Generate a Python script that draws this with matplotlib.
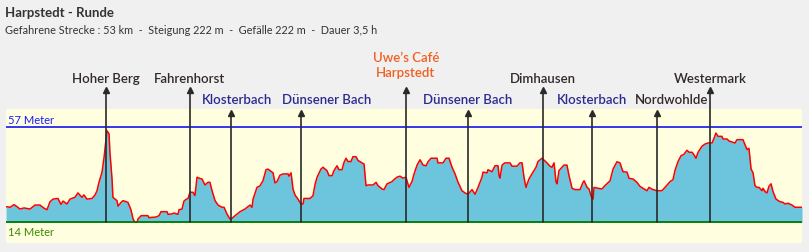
import matplotlib
matplotlib.use("Agg")
import matplotlib.pyplot as plt

# ---- data ----
title = "Harpstedt - Runde"
subtitle = "Gefahrene Strecke : 53 km  -  Steigung 222 m  -  Gefälle 222 m  -  Dauer 3,5 h"

dist_km = [0.00, 0.27, 0.53, 0.73, 0.93, 1.20, 1.60, 1.93, 2.26, 2.53, 2.73, 2.93, 3.13, 3.46, 3.66, 3.80,
           4.06, 4.26, 4.59, 4.79, 5.06, 5.19, 5.39, 5.73, 5.93, 6.06, 6.19, 6.39, 6.53, 6.66, 6.72, 6.86,
           6.92, 7.06, 7.12, 7.39, 7.46, 7.66, 7.79, 8.12, 8.32, 8.46, 8.59, 8.72, 8.79, 9.00, 9.45, 9.52,
           9.99, 10.19, 10.32, 10.72, 10.79, 11.05, 11.19, 11.45, 11.52, 11.72, 11.85, 11.99, 12.12, 12.25,
           12.45, 12.58, 12.72, 12.85, 13.05, 13.25, 13.45, 13.58, 13.72, 13.92, 14.12, 14.38, 14.52, 14.71,
           14.91, 15.05, 15.25, 15.58, 15.91, 16.25, 16.38, 16.45, 16.71, 16.91, 17.11, 17.31, 17.44, 17.58,
           17.78, 17.91, 18.04, 18.24, 18.44, 18.78, 18.84, 18.98, 19.11, 19.24, 19.44, 19.64, 19.78, 19.84,
           20.24, 20.44, 20.57, 20.71, 20.97, 21.11, 21.37, 21.51, 21.71, 21.84, 22.04, 22.17, 22.37, 22.51,
           22.64, 22.77, 22.97, 23.10, 23.30, 23.44, 23.70, 23.84, 23.97, 24.10, 24.44, 24.64, 24.77, 25.04,
           25.17, 25.37, 25.70, 25.83, 26.03, 26.23, 26.43, 26.63, 26.70, 26.83, 27.03, 27.17, 27.37, 27.57,
           27.77, 27.97, 28.10, 28.30, 28.70, 28.76, 29.10, 29.30, 29.50, 29.70, 29.90, 30.10, 30.36, 30.56,
           30.76, 31.03, 31.23, 31.43, 31.69, 31.76, 32.03, 32.09, 32.36, 32.56, 32.76, 32.83, 32.89, 33.03,
           33.22, 33.56, 33.69, 34.02, 34.22, 34.36, 34.49, 34.62, 34.82, 35.02, 35.29, 35.42, 35.69, 36.02,
           36.22, 36.35, 36.49, 36.62, 36.69, 36.82, 36.95, 37.15, 37.35, 37.49, 37.69, 37.89, 38.22, 38.42,
           38.49, 38.69, 38.82, 38.96, 39.09, 39.15, 39.42, 39.68, 39.88, 40.22, 40.42, 40.68, 40.88, 41.08,
           41.35, 41.48, 41.75, 42.01, 42.21, 42.48, 42.68, 42.81, 43.08, 43.34, 43.67, 43.88, 44.21, 44.41,
           44.54, 44.74, 44.94, 45.14, 45.34, 45.48, 45.68, 45.81, 45.94, 46.08, 46.34, 46.54, 46.74, 47.01,
           47.14, 47.27, 47.41, 47.67, 47.74, 48.01, 48.14, 48.41, 48.54, 48.67, 49.07, 49.21, 49.34, 49.47,
           49.61, 49.74, 49.87, 50.00, 50.14, 50.34, 50.40, 50.54, 50.67, 50.80, 50.94, 51.07, 51.27, 51.54,
           51.74, 51.87, 52.07, 52.34, 52.53, 53.00]

elev_m = [21.1, 20.8, 22.0, 21.1, 20.0, 20.5, 20.0, 21.8, 21.8, 20.4, 19.7, 23.3, 24.5, 24.8, 22.1, 23.6,
          22.3, 24.5, 25.3, 27.3, 25.3, 26.4, 24.5, 24.8, 26.4, 28.3, 32.1, 36.6, 43.4, 51.7, 55.5, 54.0,
          45.7, 33.6, 25.3, 23.8, 21.3, 23.0, 23.8, 23.0, 19.7, 15.5, 14.0, 14.0, 15.5, 17.0, 17.0, 16.1,
          16.4, 17.0, 18.8, 18.8, 17.6, 17.8, 18.2, 17.6, 19.7, 20.0, 23.6, 24.4, 24.8, 27.6,
          27.6, 26.1, 34.4, 34.0, 33.6, 30.9, 32.1, 32.1, 28.3, 23.8, 21.8, 20.8, 20.8, 17.8,
          15.5, 15.8, 17.0, 18.8, 20.0, 21.8, 20.8, 24.5, 29.8, 30.5, 32.8, 37.8, 38.1, 37.4,
          36.4, 31.8, 32.4, 35.3, 35.9, 35.9, 34.9, 36.4, 29.1, 26.4, 24.5, 22.3, 22.3, 24.8,
          24.8, 26.0, 30.9, 34.4, 38.1, 38.9, 37.4, 35.1, 35.1, 37.4, 39.6, 37.8, 37.8, 41.2,
          43.0, 41.5, 41.5, 43.7, 43.7, 42.0, 40.9, 40.4, 30.6, 30.9, 30.9, 32.1, 30.6, 29.1,
          28.8, 31.4, 32.4, 33.3, 34.4, 34.9, 34.0, 34.4, 32.8, 29.8, 32.4, 35.9, 39.9, 42.3,
          39.9, 39.6, 41.4, 43.0, 43.0, 40.9, 40.9, 43.0, 43.0, 38.9, 35.9, 32.1, 28.3, 27.3,
          26.7, 28.8, 26.7, 29.8, 34.4, 36.7, 36.4, 37.8, 36.9, 39.6, 39.6, 35.0, 34.0, 39.9,
          40.9, 40.9, 39.4, 39.4, 40.9, 40.9, 34.4, 29.8, 33.6, 35.9, 38.9, 41.5, 43.0, 40.9,
          39.4, 38.9, 40.9, 32.4, 31.4, 37.4, 38.4, 39.9, 39.9, 35.1, 29.4, 28.8, 28.8, 32.1,
          32.8, 29.8, 29.1, 25.8, 24.5, 29.8, 29.4, 29.1, 30.6, 32.8, 38.1, 41.4, 40.9, 36.9,
          36.7, 33.9, 33.6, 32.1, 30.3, 29.1, 28.3, 29.8, 28.8, 28.3, 28.3, 29.8, 32.4, 33.3,
          37.4, 41.4, 44.1, 44.8, 46.6, 45.7, 45.7, 44.5, 43.0, 45.7, 48.4, 49.4, 49.9, 49.9,
          52.0, 54.4, 52.9, 52.9, 51.7, 51.7, 50.8, 50.2, 49.9, 51.4, 51.4, 49.0, 46.9, 47.5,
          38.1, 36.4, 30.6, 29.8, 29.8, 28.3, 29.4, 27.9, 27.3, 30.3, 31.4, 27.9, 24.5, 23.3,
          23.0, 22.3, 22.6, 21.8, 20.8, 20.8]

max_elev = 57
min_elev = 14

poi_names = ["Hoher Berg", "Fahrenhorst", "Klosterbach", "Dünsener Bach", "Uwe’s Café\nHarpstedt",
             "Dünsener Bach", "Dimhausen", "Klosterbach", "Nordwohlde", "Westermark"]
poi_km = [6.66, 12.25, 14.98, 19.64, 26.63, 30.76, 35.75, 39.01, 43.34, 46.87]
poi_kind = ["place_hi", "place_hi", "water", "water", "cafe", "water", "place_hi", "water",
            "place_lo", "place_hi"]

# ---- layout / style ----
W, H = 809, 253
fig = plt.figure(figsize=(W / 100, H / 100), dpi=100)
fig.patch.set_facecolor("#f0f0f0")

x_left, x_right, y_top, y_bot = 6, 802, 110, 244
ax = fig.add_axes([x_left / W, 1 - y_bot / H, (x_right - x_left) / W, (y_bot - y_top) / H])
ax.set_facecolor("#ffffe0")
for s in ax.spines.values():
    s.set_visible(False)
ax.set_xticks([])
ax.set_yticks([])
ax.set_xlim(0, 53)
ax.set_ylim(4.63, 65.28)

ax.fill_between(dist_km, elev_m, min_elev, color="#6cc5dc", lw=0, zorder=2)
ax.plot(dist_km, elev_m, color="#ff0000", lw=1.1, zorder=3)
ax.axhline(max_elev, color="#0000ee", lw=1.1, zorder=4)
ax.axhline(min_elev, color="#007a00", lw=1.3, zorder=4)

lab_font = "Lato"
ax.text(0.1, max_elev + 1.0, f"{max_elev} Meter", color="#1a1aff", fontsize=8,
        family=lab_font, va="bottom", ha="left")
ax.text(0.1, min_elev - 1.5, f"{min_elev} Meter", color="#3a8a00", fontsize=8,
        family=lab_font, va="top", ha="left")

label_dx = {2: 0.4, 3: 1.73, 8: 1.0}   # small label shifts to avoid overlap
styles = {
    "place_hi": dict(color="#33292a", tip=75.1, ty=79.2),
    "place_lo": dict(color="#33292a", tip=64.4, ty=69.9),
    "water": dict(color="#2b2b8f", tip=64.4, ty=69.9),
    "cafe": dict(color="#f06020", tip=75.1, ty=85.3),
}
for i, (name, km, kind) in enumerate(zip(poi_names, poi_km, poi_kind)):
    st = styles[kind]
    ax.plot([km, km], [min_elev, st["tip"] - 1.2], color="#2a2a2a", lw=1.2, zorder=5, clip_on=False)
    ax.plot([km], [st["tip"] - 1.0], marker="^", color="#2a2a2a", markersize=4, zorder=5, clip_on=False)
    ax.text(km + label_dx.get(i, 0), st["ty"], name, color=st["color"], fontsize=9.5,
            family=lab_font, fontweight="semibold", ha="center", va="center",
            linespacing=1.3, clip_on=False)

fig.text(5 / W, 1 - 13 / H, title, fontsize=9.5, fontweight="bold", color="#333333",
         family=lab_font, va="center", ha="left")
fig.text(5 / W, 1 - 30 / H, subtitle, fontsize=7.8, color="#333333",
         family=lab_font, va="center", ha="left")

fig.savefig("out.png", dpi=100, facecolor=fig.get_facecolor())
